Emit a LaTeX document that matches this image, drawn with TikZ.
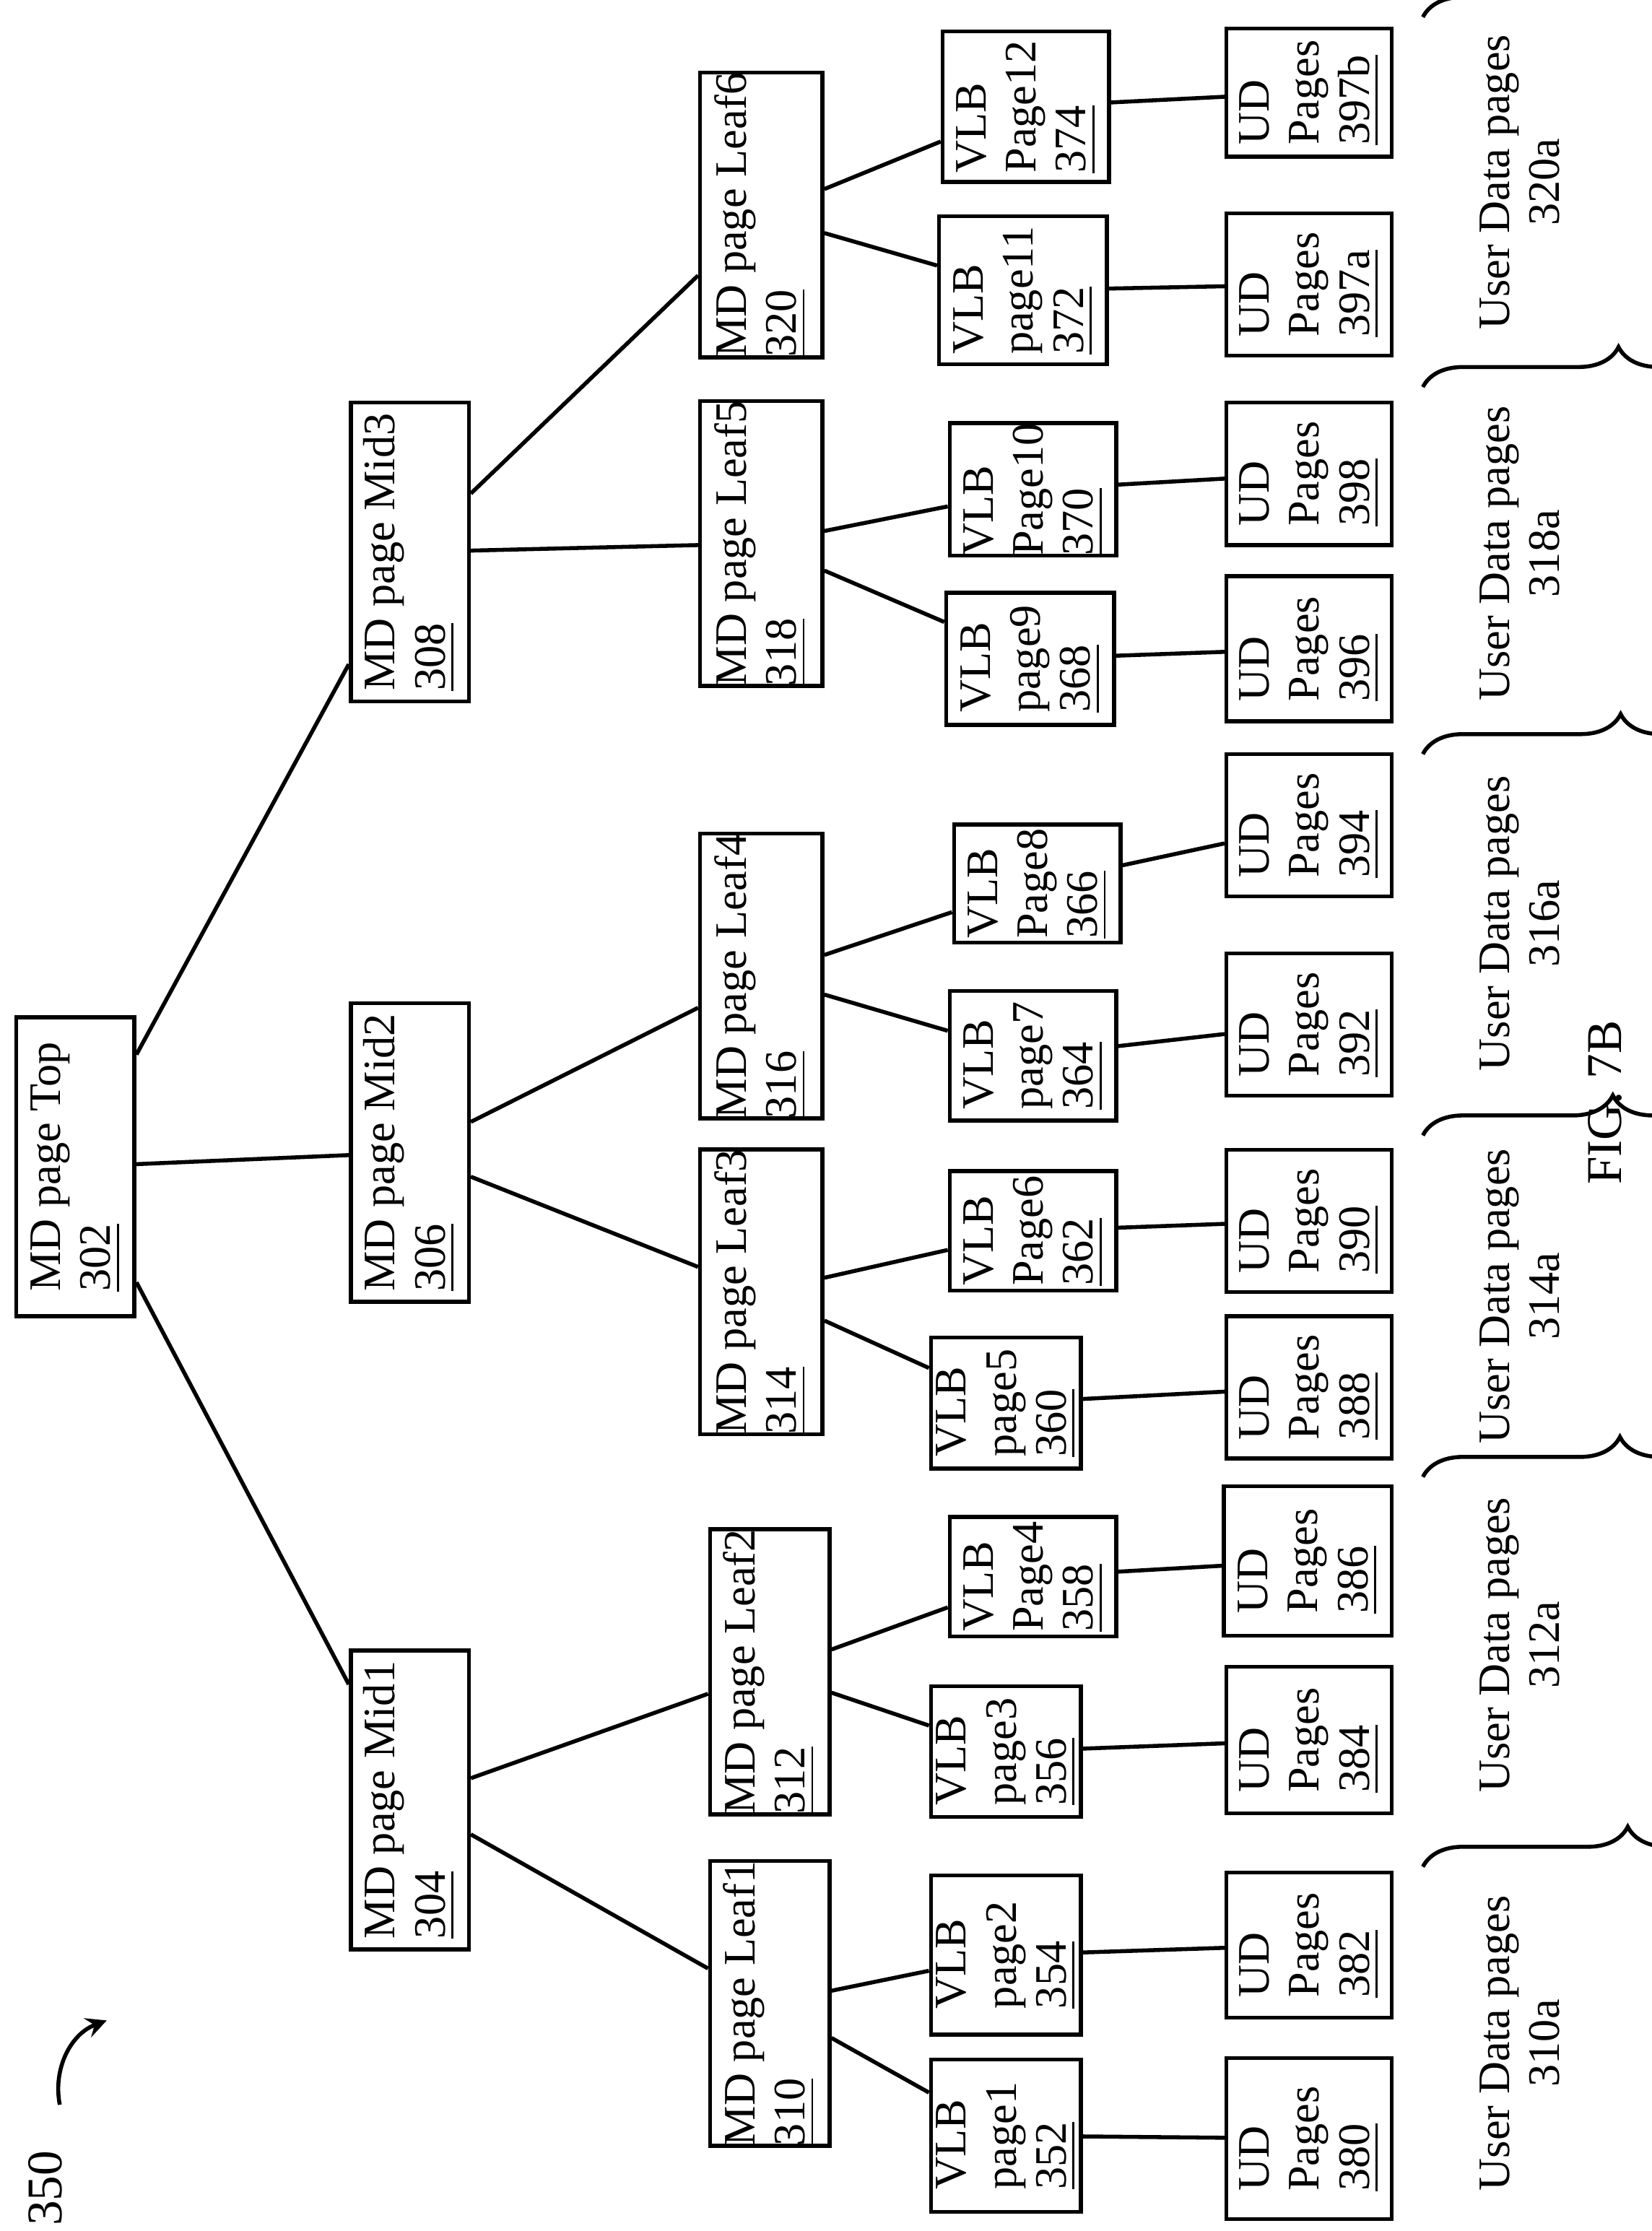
\documentclass[tikz,border=0pt]{standalone}
\usepackage{fontspec}
\setmainfont{Liberation Serif}
\usetikzlibrary{decorations.pathreplacing}
\newcommand{\lbl}[2]{\rotatebox{90}{\begin{tabular}{@{}l@{}}#1\\\underline{#2}\end{tabular}}}
\newcommand{\vlb}[3]{\rotatebox{90}{\begin{tabular}{@{}l@{}}#1\\#2\\\underline{#3}\end{tabular}}}
\tikzset{
  box/.style={draw, thick, inner sep=0pt, font=\fontsize{9}{10}\selectfont},
  brace/.style={thick, decorate, decoration={brace, amplitude=8pt}},
  wire/.style={thick}
}
\begin{document}
\begin{tikzpicture}[x=0.1mm, y=-0.1mm]
\useasboundingbox (0,0) rectangle (1161,1568);
% MD pages
\node[box, minimum width=8.3mm, minimum height=21mm] (top) at (53,820) {\lbl{MD page Top}{302}};
\node[box, minimum width=8.3mm, minimum height=21mm] (mid1) at (288,1265) {\lbl{MD page Mid1}{304}};
\node[box, minimum width=8.3mm, minimum height=21mm] (mid2) at (288,810) {\lbl{MD page Mid2}{306}};
\node[box, minimum width=8.3mm, minimum height=21mm] (mid3) at (288,388) {\lbl{MD page Mid3}{308}};
\node[box, minimum width=8.4mm, minimum height=18mm] (leaf1) at (541,1408) {\lbl{MD page Leaf1}{310}};
\node[box, minimum width=8.4mm, minimum height=19.5mm] (leaf2) at (541,1175) {\lbl{MD page Leaf2}{312}};
\node[box, minimum width=8.6mm, minimum height=19.3mm] (leaf3) at (535,908) {\lbl{MD page Leaf3}{314}};
\node[box, minimum width=8.6mm, minimum height=19.3mm] (leaf4) at (535,686) {\lbl{MD page Leaf4}{316}};
\node[box, minimum width=8.6mm, minimum height=18.1mm] (leaf5) at (535,382) {\lbl{MD page Leaf5}{318}};
\node[box, minimum width=8.6mm, minimum height=19.3mm] (leaf6) at (535,151) {\lbl{MD page Leaf6}{320}};
% VLB pages
\node[box, minimum width=8.5mm, minimum height=10.7mm] (vlb1) at (707,1501) {\vlb{VLB}{page1}{352}};
\node[box, minimum width=8.5mm, minimum height=11.2mm] (vlb2) at (707,1374) {\vlb{VLB}{page2}{354}};
\node[box, minimum width=8.5mm, minimum height=9.2mm] (vlb3) at (707,1231) {\vlb{VLB}{page3}{356}};
\node[box, minimum width=11.7mm, minimum height=8.4mm] (vlb4) at (726,1108) {\vlb{VLB}{Page4}{358}};
\node[box, minimum width=8.5mm, minimum height=9.2mm] (vlb5) at (707,986) {\vlb{VLB}{page5}{360}};
\node[box, minimum width=11.7mm, minimum height=8.4mm] (vlb6) at (726,865) {\vlb{VLB}{Page6}{362}};
\node[box, minimum width=11.7mm, minimum height=9.1mm] (vlb7) at (726,742) {\vlb{VLB}{page7}{364}};
\node[box, minimum width=11.7mm, minimum height=8.3mm] (vlb8) at (729,621) {\vlb{VLB}{Page8}{366}};
\node[box, minimum width=11.8mm, minimum height=9.3mm] (vlb9) at (724,463) {\vlb{VLB}{page9}{368}};
\node[box, minimum width=11.7mm, minimum height=8.8mm] (vlb10) at (726,344) {\vlb{VLB}{Page10}{370}};
\node[box, minimum width=11.8mm, minimum height=10.4mm] (vlb11) at (719,204) {\vlb{VLB}{page11}{372}};
\node[box, minimum width=11.7mm, minimum height=10.6mm] (vlb12) at (721,75) {\vlb{VLB}{Page12}{374}};
% UD pages
\node[box, minimum width=11.6mm, minimum height=11.3mm] (ud1) at (920,1503) {\vlb{UD}{Pages}{380}};
\node[box, minimum width=11.6mm, minimum height=10.2mm] (ud2) at (920,1367) {\vlb{UD}{Pages}{382}};
\node[box, minimum width=11.6mm, minimum height=10.3mm] (ud3) at (920,1223) {\vlb{UD}{Pages}{384}};
\node[box, minimum width=11.8mm, minimum height=10.5mm] (ud4) at (919,1097) {\vlb{UD}{Pages}{386}};
\node[box, minimum width=11.6mm, minimum height=10mm] (ud5) at (920,975) {\vlb{UD}{Pages}{388}};
\node[box, minimum width=11.6mm, minimum height=10mm] (ud6) at (920,858) {\vlb{UD}{Pages}{390}};
\node[box, minimum width=11.6mm, minimum height=10mm] (ud7) at (920,720) {\vlb{UD}{Pages}{392}};
\node[box, minimum width=11.6mm, minimum height=10mm] (ud8) at (920,580) {\vlb{UD}{Pages}{394}};
\node[box, minimum width=11.6mm, minimum height=10.2mm] (ud9) at (920,456) {\vlb{UD}{Pages}{396}};
\node[box, minimum width=11.6mm, minimum height=10mm] (ud10) at (920,333) {\vlb{UD}{Pages}{398}};
\node[box, minimum width=11.6mm, minimum height=10mm] (ud11) at (920,200) {\vlb{UD}{Pages}{397a}};
\node[box, minimum width=11.6mm, minimum height=9mm] (ud12) at (920,65) {\vlb{UD}{Pages}{397b}};
% tree
\draw[wire] (top) -- (mid1);
\draw[wire] (top) -- (mid2);
\draw[wire] (top) -- (mid3);
\draw[wire] (mid1) -- (leaf1);
\draw[wire] (mid1) -- (leaf2);
\draw[wire] (mid2) -- (leaf3);
\draw[wire] (mid2) -- (leaf4);
\draw[wire] (mid3) -- (leaf5);
\draw[wire] (mid3) -- (leaf6);
\foreach \l/\a/\b in {leaf1/vlb1/vlb2, leaf2/vlb3/vlb4, leaf3/vlb5/vlb6, leaf4/vlb7/vlb8, leaf5/vlb9/vlb10, leaf6/vlb11/vlb12}{
  \draw[wire] (\l) -- (\a);
  \draw[wire] (\l) -- (\b);
}
\foreach \i in {1,...,12}{
  \draw[wire] (vlb\i) -- (ud\i);
}
% user data groups
\foreach \n/\ya/\yb/\ym in {310a/1312/1560/1436, 312a/1038/1275/1156, 314a/798/1025/911, 316a/530/768/649, 318a/272/507/389, 320a/12/245/128}{
  \draw[brace] (1000,\ya) -- (1020,\ya) -- (1020,\yb) -- (1000,\yb);
  \node[font=\fontsize{9}{10}\selectfont, rotate=90, align=center] (grp\n) at (1068,\ym) {User Data pages\\\n};
}
\node[font=\fontsize{10}{12}\selectfont, rotate=90] (fig) at (1128,775) {FIG. 7B};
\node[font=\fontsize{10}{12}\selectfont, rotate=90] (ref) at (32,1538) {350};
\coordinate (arr) at (75,1420);
\draw[wire, -stealth] (ref.east) ++(10,-20) to[bend left=40] (arr);
\end{tikzpicture}
\end{document}
